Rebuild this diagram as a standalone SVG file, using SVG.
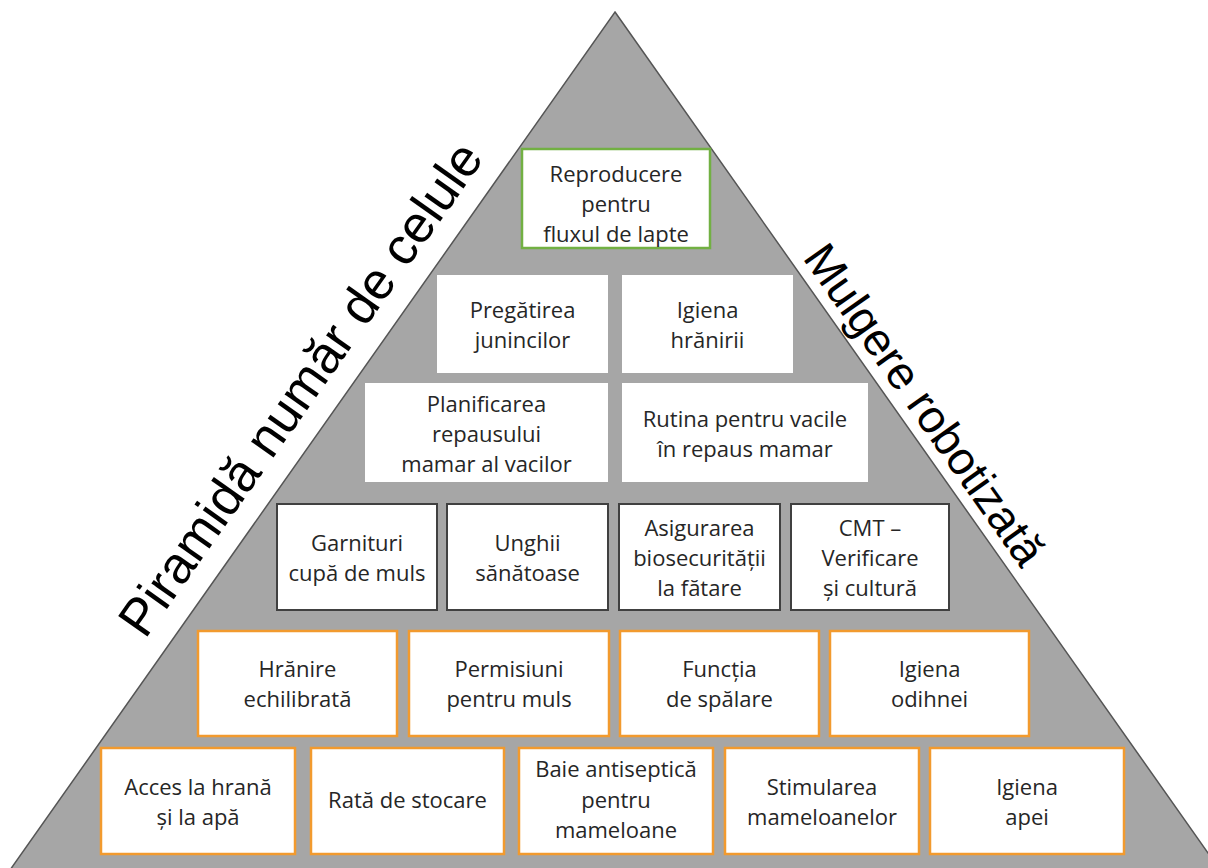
<svg xmlns="http://www.w3.org/2000/svg" width="1208" height="868" viewBox="0 0 1208 868">
<style>
.t{font-family:"Open Sans","Liberation Sans",sans-serif;font-size:22px;fill:#262626;text-anchor:middle}
.side{font-family:"Liberation Sans",Arial,sans-serif;fill:#000}
.plain{fill:#fff;stroke:none}
.dark{fill:#fff;stroke:#404040;stroke-width:2}
.orange{fill:#fff;stroke:#f29a2e;stroke-width:2.5}
.green{fill:#fff;stroke:#72b043;stroke-width:2.5}
</style>
<rect width="1208" height="868" fill="#fff"/>
<polygon points="615,12 1220,870 10,870" fill="#a6a6a6" stroke="#555" stroke-width="1.5"/>
<text class="side" font-size="52" transform="translate(145,640) rotate(-54.8)">Piramidă număr de celule</text>
<text class="side" font-size="46" transform="translate(802,258) rotate(54.8)">Mulgere robotizată</text>
<g id="connectors"/>
<g id="n1"><rect class="green" x="522" y="149" width="188" height="99"/><text class="t" x="616"><tspan x="616" y="182">Reproducere</tspan><tspan x="616" y="212">pentru</tspan><tspan x="616" y="242">fluxul de lapte</tspan></text></g>
<g id="n2"><rect class="plain" x="437" y="275" width="171" height="98"/><text class="t"><tspan x="522.5" y="318">Pregătirea</tspan><tspan x="522.5" y="348">junincilor</tspan></text></g>
<g id="n3"><rect class="plain" x="622" y="275" width="171" height="98"/><text class="t"><tspan x="707.5" y="318">Igiena</tspan><tspan x="707.5" y="348">hrănirii</tspan></text></g>
<g id="n4"><rect class="plain" x="365" y="383" width="243" height="99"/><text class="t"><tspan x="486.5" y="412">Planificarea</tspan><tspan x="486.5" y="442">repausului</tspan><tspan x="486.5" y="472">mamar al vacilor</tspan></text></g>
<g id="n5"><rect class="plain" x="622" y="383" width="246" height="99"/><text class="t"><tspan x="745" y="427">Rutina pentru vacile</tspan><tspan x="745" y="457">în repaus mamar</tspan></text></g>
<g id="n6"><rect class="dark" x="277" y="504" width="160" height="106"/><text class="t"><tspan x="357" y="551">Garnituri</tspan><tspan x="357" y="581">cupă de muls</tspan></text></g>
<g id="n7"><rect class="dark" x="447" y="504" width="161" height="106"/><text class="t"><tspan x="527.5" y="551">Unghii</tspan><tspan x="527.5" y="581">sănătoase</tspan></text></g>
<g id="n8"><rect class="dark" x="619" y="504" width="161" height="106"/><text class="t"><tspan x="699.5" y="536">Asigurarea</tspan><tspan x="699.5" y="566">biosecurității</tspan><tspan x="699.5" y="596">la fătare</tspan></text></g>
<g id="n9"><rect class="dark" x="791" y="504" width="158" height="106"/><text class="t"><tspan x="870" y="536">CMT –</tspan><tspan x="870" y="566">Verificare</tspan><tspan x="870" y="596">și cultură</tspan></text></g>
<g id="n10"><rect class="orange" x="198" y="631" width="199" height="105"/><text class="t"><tspan x="297.5" y="677">Hrănire</tspan><tspan x="297.5" y="707">echilibrată</tspan></text></g>
<g id="n11"><rect class="orange" x="409" y="631" width="200" height="105"/><text class="t"><tspan x="509" y="677">Permisiuni</tspan><tspan x="509" y="707">pentru muls</tspan></text></g>
<g id="n12"><rect class="orange" x="620" y="631" width="199" height="105"/><text class="t"><tspan x="719.5" y="677">Funcția</tspan><tspan x="719.5" y="707">de spălare</tspan></text></g>
<g id="n13"><rect class="orange" x="830" y="631" width="199" height="105"/><text class="t"><tspan x="929.5" y="677">Igiena</tspan><tspan x="929.5" y="707">odihnei</tspan></text></g>
<g id="n14"><rect class="orange" x="101" y="748" width="194" height="106"/><text class="t"><tspan x="198" y="795">Acces la hrană</tspan><tspan x="198" y="825">și la apă</tspan></text></g>
<g id="n15"><rect class="orange" x="311" y="748" width="193" height="106"/><text class="t" x="407.5" y="808">Rată de stocare</text></g>
<g id="n16"><rect class="orange" x="519" y="748" width="194" height="106"/><text class="t"><tspan x="616" y="777">Baie antiseptică</tspan><tspan x="616" y="808">pentru</tspan><tspan x="616" y="838">mameloane</tspan></text></g>
<g id="n17"><rect class="orange" x="725" y="748" width="194" height="106"/><text class="t"><tspan x="822" y="795">Stimularea</tspan><tspan x="822" y="825">mameloanelor</tspan></text></g>
<g id="n18"><rect class="orange" x="930" y="748" width="194" height="106"/><text class="t"><tspan x="1027" y="795">Igiena</tspan><tspan x="1027" y="825">apei</tspan></text></g>
</svg>
